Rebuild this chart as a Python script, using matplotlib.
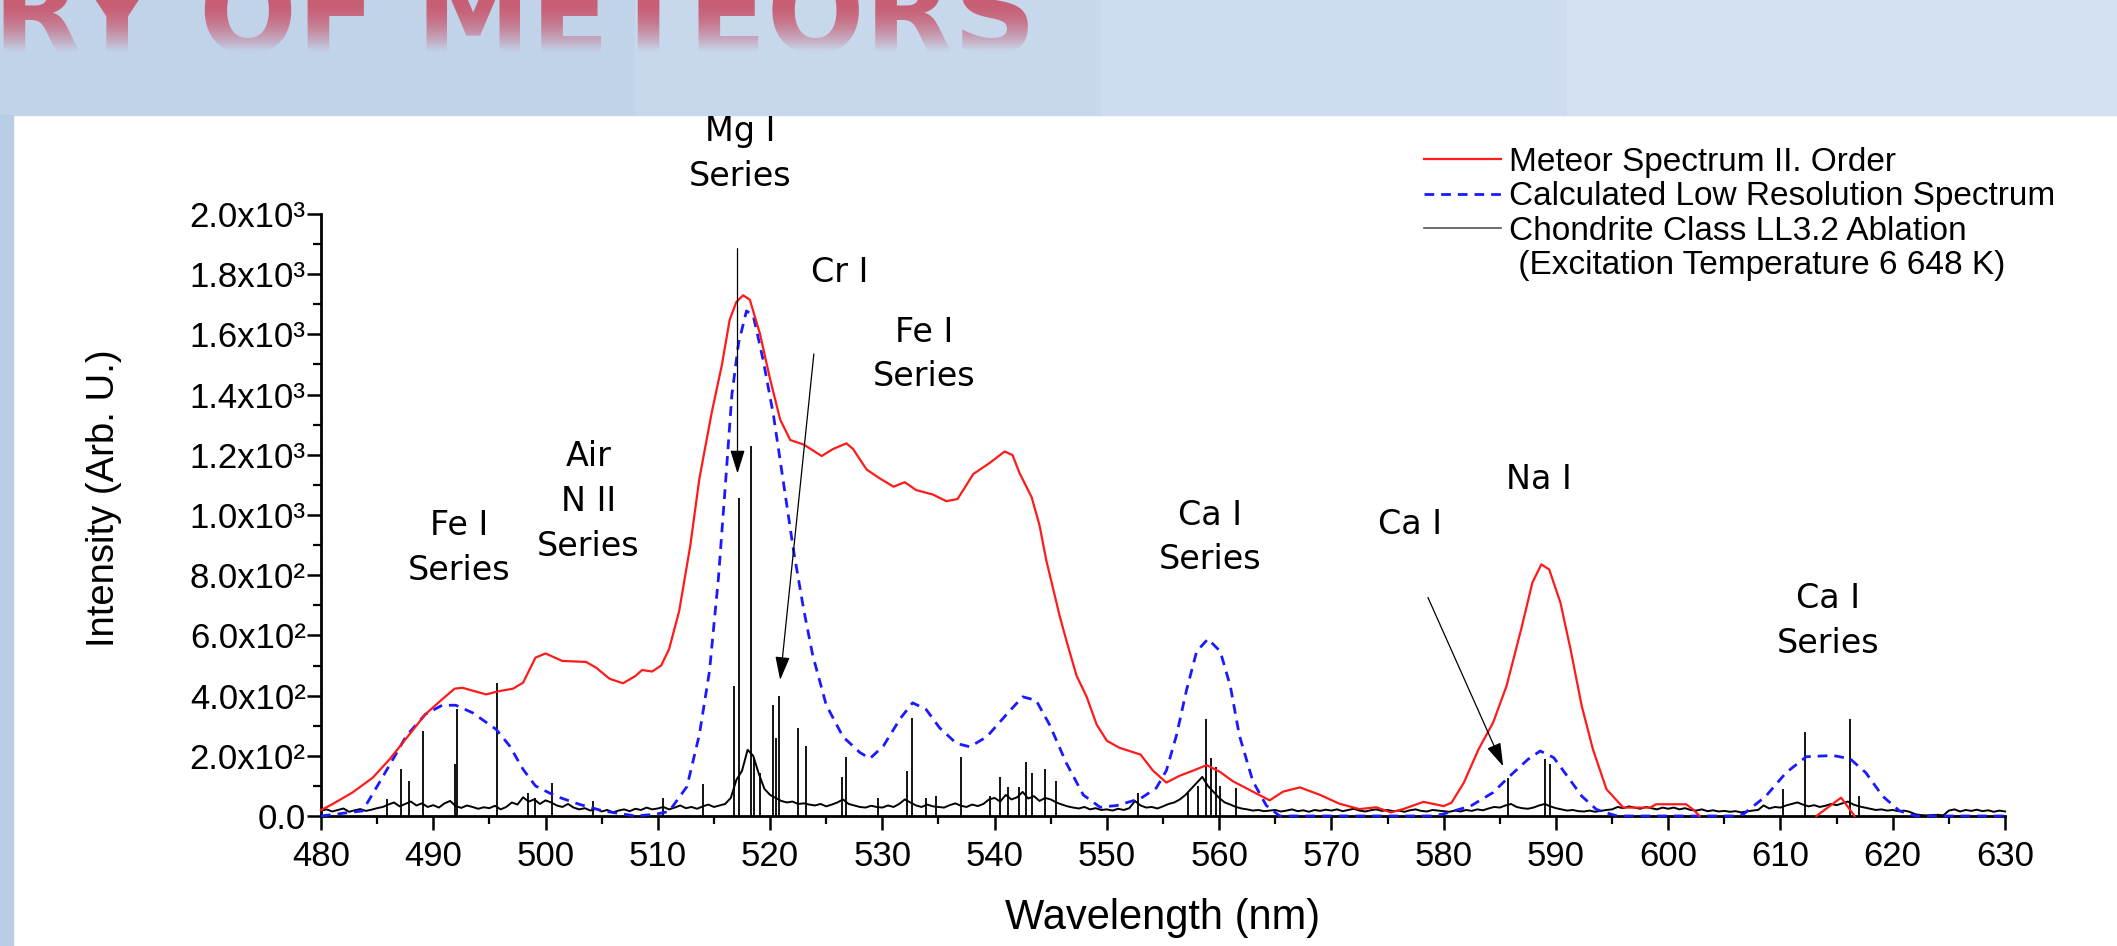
import numpy as np
import matplotlib
matplotlib.use("Agg")
import matplotlib.pyplot as plt
from matplotlib.lines import Line2D
from matplotlib.patches import Rectangle
from matplotlib.colors import to_rgb
from matplotlib.ticker import MultipleLocator, FuncFormatter

# ---------------- data ----------------
meteor_nm = [480.0, 481.0, 482.8, 484.6, 486.1, 487.3, 489.3, 490.8, 491.9, 492.6,
             494.7, 495.9, 497.1, 498.0, 499.1, 500.0, 501.5, 503.6, 504.5, 505.7,
             506.9, 508.0, 508.6, 509.5, 510.3, 511.0, 511.9, 512.9, 513.7, 514.8,
             515.7, 516.4, 517.0, 517.6, 518.2, 519.1, 520.0, 520.9, 521.8, 523.0,
             524.6, 525.6, 526.8, 527.4, 528.6, 529.8, 531.0, 532.0, 533.0, 534.5,
             535.7, 536.7, 538.1, 539.6, 540.9, 541.6, 542.2, 543.3, 544.0, 544.6,
             545.2, 545.8, 546.4, 547.3, 548.2, 549.1, 550.0, 551.1, 553.0, 554.1,
             555.3, 556.5, 557.7, 558.9, 560.1, 561.2, 563.0, 564.5, 565.7, 567.2,
             569.0, 570.7, 572.5, 574.0, 575.3, 576.4, 578.2, 580.0, 580.7, 581.8,
             583.1, 584.4, 585.6, 586.9, 587.9, 588.7, 589.4, 590.4, 591.3, 592.3,
             593.3, 594.5, 596.0, 598.4, 598.9, 601.6, 602.2, 602.8, 603.0,
             613.2, 615.4, 616.6]
meteor_int = [20, 39, 78, 127, 188, 244, 338, 388, 423, 426,
              404, 415, 423, 443, 526, 540, 515, 512, 493, 456,
              441, 465, 485, 480, 500, 554, 680, 900, 1120, 1340,
              1497, 1648, 1708, 1730, 1715, 1602, 1452, 1317, 1249, 1234,
              1196, 1219, 1238, 1219, 1151, 1121, 1094, 1109, 1083, 1068,
              1046, 1053, 1136, 1174, 1211, 1199, 1141, 1059, 966, 850,
              757, 664, 582, 466, 396, 303, 250, 227, 204, 151,
              111, 134, 151, 169, 146, 116, 81, 52, 81, 95,
              70, 41, 23, 29, 12, 23, 47, 33, 44, 111,
              221, 310, 432, 620, 775, 836, 819, 709, 554, 365,
              221, 89, 28, 28, 39, 39, 22, 0, np.nan,
              0, 61, 0]

calc_nm = [480.0, 483.7, 485.2, 486.4, 487.6, 489.3, 490.8, 492.0, 493.5, 495.6,
           496.8, 498.0, 499.1, 500.9, 503.0, 505.1, 508.0, 509.8, 511.0, 512.6,
           513.7, 514.6, 515.4, 516.0, 516.6, 517.2, 517.9, 518.5, 519.4, 520.3,
           521.2, 522.1, 523.0, 523.8, 525.0, 526.5, 528.0, 528.9, 530.1, 531.6,
           532.7, 533.9, 535.1, 536.6, 537.8, 539.3, 541.1, 542.5, 543.7, 544.9,
           546.4, 547.9, 549.4, 550.9, 553.0, 554.4, 555.3, 556.2, 557.1, 558.0,
           559.0, 560.1, 561.0, 561.8, 563.0, 564.2, 565.4, 579.0, 579.9, 582.4,
           584.4, 585.9, 587.5, 588.6, 589.8, 591.0, 592.3, 593.6, 594.9, 595.5,
           606.0, 606.7, 608.7, 610.5, 612.3, 614.7, 616.2, 617.6, 619.1, 620.6,
           622.1, 630.0]
calc_int = [0, 17, 111, 188, 266, 338, 368, 368, 343, 288,
            233, 155, 100, 66, 39, 17, 0, 6, 15, 98,
            270, 480, 790, 1090, 1400, 1572, 1678, 1663, 1512, 1332,
            1106, 880, 685, 534, 369, 263, 211, 191, 233, 324,
            376, 354, 293, 241, 230, 263, 339, 396, 384, 303,
            175, 70, 29, 35, 58, 93, 151, 268, 419, 547,
            588, 547, 431, 268, 116, 35, 0, 0, 6, 33,
            78, 133, 188, 216, 194, 133, 66, 22, 6, 0,
            0, 6, 66, 144, 197, 201, 190, 144, 66, 17,
            0, 0]

# chondrite ablation spectrum: background level every 0.5 nm from 480 to 630 nm
chond_base = [18, 22, 15, 20, 25, 14, 19, 23, 17, 21,
              26, 30, 38, 45, 32, 40, 48, 35, 42, 30,
              36, 28, 42, 50, 33, 27, 35, 30, 24, 29,
              26, 34, 22, 30, 45, 38, 62, 48, 55, 40,
              52, 45, 35, 30, 40, 28, 22, 26, 18, 24,
              15, 20, 12, 18, 22, 16, 24, 20, 28, 22,
              25, 30, 22, 28, 35, 26, 30, 24, 32, 38,
              30, 35, 40, 60, 120, 150, 220, 200, 140, 90,
              70, 60, 50, 45, 48, 40, 42, 38, 35, 40,
              32, 38, 45, 55, 40, 35, 30, 28, 34, 30,
              28, 35, 30, 40, 55, 45, 35, 30, 38, 32,
              30, 28, 36, 42, 34, 30, 38, 33, 40, 55,
              60, 48, 70, 55, 62, 80, 58, 66, 50, 60,
              55, 45, 38, 32, 28, 25, 30, 22, 26, 20,
              22, 18, 24, 20, 26, 50, 35, 28, 30, 25,
              32, 40, 45, 55, 70, 90, 110, 130, 100, 80,
              60, 45, 38, 30, 25, 22, 18, 20, 16, 18,
              20, 15, 18, 22, 16, 19, 14, 20, 17, 21,
              18, 22, 16, 20, 24, 18, 15, 19, 22, 17,
              20, 16, 18, 14, 19, 22, 17, 15, 20, 18,
              16, 14, 18, 15, 20, 17, 22, 19, 25, 30,
              28, 35, 40, 30, 26, 24, 28, 35, 40, 32,
              26, 22, 18, 20, 16, 15, 18, 14, 17, 20,
              22, 30, 26, 32, 28, 24, 30, 26, 22, 28,
              24, 28, 22, 26, 20, 18, 22, 16, 19, 15,
              17, 14, 16, 12, 15, 18, 20, 35, 25, 30,
              28, 35, 40, 45, 38, 32, 36, 30, 34, 40,
              36, 42, 48, 38, 32, 28, 24, 20, 22, 18,
              20, 16, 18, 14, 6, 3, 2, 3, 4, 2,
              18, 22, 15, 20, 17, 21, 16, 19, 14, 18, 15]
chond_nm = np.arange(480.0, 630.0 + 0.25, 0.5)

# emission lines of the chondrite spectrum
line_nm = [485.9, 487.1, 487.8, 489.1, 491.9, 492.1, 495.7, 498.4, 499.1, 500.6,
           504.2, 510.5, 514.0, 516.8, 517.2, 518.3, 518.6, 519.1, 520.3, 520.5,
           520.8, 522.5, 523.2, 526.4, 526.8, 529.6, 532.2, 532.6, 533.9, 534.8,
           537.0, 539.6, 540.5, 541.2, 542.2, 542.8, 543.3, 544.5, 545.5, 552.8,
           557.2, 558.1, 558.8, 559.3, 559.7, 560.1, 561.5, 585.7, 589.0, 589.5,
           610.2, 612.2, 616.2, 617.0]
line_int = [55, 155, 116, 282, 172, 354, 443, 78, 61, 111,
            50, 60, 105, 432, 1055, 1228, 188, 143, 369, 260,
            399, 293, 233, 128, 196, 60, 150, 327, 60, 68,
            196, 68, 128, 95, 98, 180, 143, 157, 116, 76,
            78, 100, 321, 194, 162, 100, 93, 127, 188, 172,
            89, 279, 321, 66]

series_labels = ["Meteor Spectrum II. Order",
                 "Calculated Low Resolution Spectrum",
                 "Chondrite Class LL3.2 Ablation",
                 " (Excitation Temperature 6 648 K)"]

annot_text = ["Fe I\nSeries", "Air\nN II\nSeries", "Mg I\nSeries", "Cr I",
              "Fe I\nSeries", "Ca I\nSeries", "Ca I", "Na I", "Ca I\nSeries"]
annot_x = [492.3, 503.8, 517.3, 526.2, 533.7, 559.2, 577.0, 588.5, 614.2]
annot_y = [890, 1045, 2200, 1806, 1533, 925, 969, 1118, 648]

# arrows: (tail_x, tail_y, head_x, head_y)
arrow_tail_x = [517.1, 523.9, 578.6]
arrow_tail_y = [1885, 1535, 726]
arrow_head_x = [517.1, 520.9, 585.3]
arrow_head_y = [1138, 452, 165]

# ---------------- figure ----------------
W, H = 2117, 946
fig = plt.figure(figsize=(W / 100, H / 100), dpi=100)
fig.patch.set_facecolor("white")

# slide background decoration (blue header band, faded title, left strip)
band_px = 115
band_h = band_px / H
band_parts = [(0.00, 0.30, "#c1d3e9"), (0.30, 0.52, "#c7d8ec"),
              (0.52, 0.74, "#cddcef"), (0.74, 1.00, "#d3e1f2")]
for x0, x1, c in band_parts:
    fig.patches.append(Rectangle((x0, 1 - band_h), x1 - x0, band_h,
                                 transform=fig.transFigure, color=c, zorder=0))
fig.patches.append(Rectangle((0, 0), 13 / W, 1 - band_h, transform=fig.transFigure,
                             color="#b9cde6", zorder=0))
fig.text(-7 / W, 1 - 52 / H, "RY OF METEORS", fontsize=83, fontweight="bold",
         family="DejaVu Sans", color="#c8596f", va="baseline", ha="left", zorder=1)
# fading veil over the title (band colour, growing opacity downwards)
veil = np.zeros((band_px, W, 4))
xs = (np.arange(W) + 0.5) / W
for x0, x1, c in band_parts:
    veil[:, (xs >= x0) & (xs < x1), :3] = to_rgb(c)
ramp = np.clip((np.arange(band_px) - 4) / 46.0, 0, 1)
veil[:, :, 3] = (0.05 + 0.93 * ramp ** 1.6)[:, None]
vax = fig.add_axes([0, 1 - band_h, 1, band_h], zorder=2)
vax.imshow(veil, aspect="auto", interpolation="bilinear")
vax.axis("off")

left, right, bottom, top = 321, 2005, 816, 214
ax = fig.add_axes([left / W, 1 - bottom / H, (right - left) / W, (bottom - top) / H],
                  zorder=3)
ax.patch.set_alpha(0)
ax.set_xlim(480, 630)
ax.set_ylim(0, 2000)

ax.plot(meteor_nm, meteor_int, color="#ff1a1a", lw=1.6, clip_on=False, zorder=4)
ax.plot(calc_nm, calc_int, color="#1a1aff", lw=2.0, dashes=(3.5, 2.5), clip_on=False, zorder=3)
ax.plot(chond_nm, chond_base, color="black", lw=1.4, clip_on=False, zorder=2)
ax.vlines(line_nm, 0, line_int, color="black", lw=1.3, zorder=2)

for s in ["top", "right"]:
    ax.spines[s].set_visible(False)
for s in ["left", "bottom"]:
    ax.spines[s].set_linewidth(2.0)

ax.xaxis.set_major_locator(MultipleLocator(10))
ax.xaxis.set_minor_locator(MultipleLocator(5))
ax.yaxis.set_major_locator(MultipleLocator(200))
ax.yaxis.set_minor_locator(MultipleLocator(100))

SUP = str.maketrans("0123456789", "⁰¹²³⁴⁵⁶⁷⁸⁹")


def sci(v, pos):
    if v <= 1e-9:
        return "0.0"
    e = int(np.floor(np.log10(v) + 1e-9))
    m = v / 10 ** e
    return "%.1fx10%s" % (m, str(e).translate(SUP))


ax.yaxis.set_major_formatter(FuncFormatter(sci))
ax.tick_params(axis="both", which="major", direction="out", length=10, width=1.8,
               labelsize=25)
ax.tick_params(axis="both", which="minor", direction="out", length=6, width=1.6)
ax.tick_params(axis="y", which="major", pad=1)
ax.tick_params(axis="x", which="major", pad=7)
for lab in ax.get_xticklabels() + ax.get_yticklabels():
    lab.set_family("Liberation Sans")

ax.set_xlabel("Wavelength (nm)", fontsize=30, family="Liberation Sans")
ax.set_ylabel("Intensity (Arb. U.)", fontsize=27.5, family="Liberation Sans")
ax.xaxis.label.set_va("center")
ax.yaxis.label.set_va("center")
ax.xaxis.set_label_coords(0.5, -0.169)
ax.yaxis.set_label_coords(-0.129, 0.528)

for t, x, y in zip(annot_text, annot_x, annot_y):
    ax.text(x, y, t, ha="center", va="center", fontsize=24, family="DejaVu Sans",
            linespacing=1.45, clip_on=False, zorder=5)

for tx, ty, hx, hy in zip(arrow_tail_x, arrow_tail_y, arrow_head_x, arrow_head_y):
    ax.annotate("", xy=(hx, hy), xytext=(tx, ty), annotation_clip=False,
                arrowprops=dict(arrowstyle="-|>,head_length=0.9,head_width=0.28",
                                color="black", lw=0.9, shrinkA=0, shrinkB=0,
                                mutation_scale=16), zorder=5)

handles = [Line2D([], [], color="#ff1a1a", lw=1.6),
           Line2D([], [], color="#1a1aff", lw=2.0, dashes=(3.5, 2.5)),
           Line2D([], [], color="#555555", lw=1.2),
           Line2D([], [], color="none")]
ax.legend(handles, series_labels, loc="upper left",
          bbox_to_anchor=(1424 / W, 1 - 147 / H), bbox_transform=fig.transFigure,
          frameon=False, borderaxespad=0, borderpad=0, handlelength=2.3,
          handletextpad=0.24, labelspacing=0.1,
          prop={"family": "Liberation Sans", "size": 24})

fig.savefig("out.png", dpi=100)
